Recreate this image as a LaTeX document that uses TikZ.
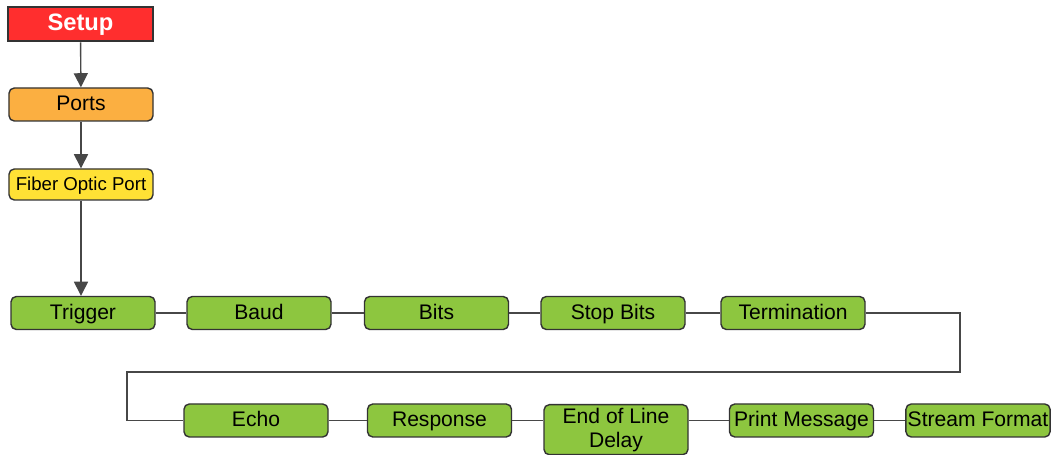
\documentclass[tikz,border=0pt]{standalone}
\usepackage{fontspec}
\setmainfont{Liberation Sans}
\usetikzlibrary{arrows.meta, positioning}

\definecolor{setupred}{HTML}{FF2E2E}
\definecolor{portorange}{HTML}{FBAF41}
\definecolor{fiberyellow}{HTML}{FFE135}
\definecolor{menugreen}{HTML}{8DC63F}
\definecolor{edgegray}{HTML}{333333}

\begin{document}
\begin{tikzpicture}[>={Triangle[width=8pt, length=8pt]},
  menu/.style={draw=edgegray, line width=0.8pt, rounded corners=3pt,
               minimum width=2.88cm, minimum height=0.66cm,
               inner sep=1pt, text height=1.6ex, text depth=0.3ex,
               font=\fontsize{12}{13.5}\selectfont},
  link/.style={draw=edgegray!90, line width=0.8pt}]
  \useasboundingbox (0, 0) rectangle (21.04, 9.1);

  % Top chain
  \node[draw=edgegray, line width=1.6pt, fill=setupred, text=white,
        minimum width=2.9cm, minimum height=0.68cm,
        text height=1.7ex, text depth=0.4ex,
        font=\fontsize{13.5}{15}\selectfont\bfseries] (setup) at (1.61, 8.62) {Setup};
  \node[menu, fill=portorange] (ports) at (1.62, 7.01) {Ports};
  \node[menu, fill=fiberyellow, minimum height=0.62cm,
        font=\fontsize{10.6}{12}\selectfont] (fiber) at (1.62, 5.41) {Fiber Optic Port};

  \draw[link, ->] (setup) -- (ports);
  \draw[link, ->] (ports) -- (fiber);

  % First row
  \node[menu, fill=menugreen] (trigger) at (1.66, 2.84) {Trigger};
  \node[menu, fill=menugreen] (baud) at (5.18, 2.84) {Baud};
  \node[menu, fill=menugreen] (bits) at (8.73, 2.84) {Bits};
  \node[menu, fill=menugreen] (stopbits) at (12.26, 2.84) {Stop Bits};
  \node[menu, fill=menugreen] (term) at (15.86, 2.84) {Termination};

  \draw[link, ->] (fiber.south) -- (fiber.south |- trigger.north);
  \draw[link] (trigger) -- (baud);
  \draw[link] (baud) -- (bits);
  \draw[link] (bits) -- (stopbits);
  \draw[link] (stopbits) -- (term);

  % Second row
  \node[menu, fill=menugreen] (echo) at (5.12, 0.69) {Echo};
  \node[menu, fill=menugreen] (response) at (8.79, 0.69) {Response};
  \node[menu, fill=menugreen, anchor=north, minimum height=1.0cm,
        align=center, text height=22pt] (eol) at (12.32, 1.02) {End of Line\\Delay};
  \node[menu, fill=menugreen] (printmsg) at (16.03, 0.69) {Print Message};
  \node[menu, fill=menugreen] (stream) at (19.56, 0.69) {Stream Format};

  \coordinate (turn) at (19.2, 1.66);
  \coordinate (back) at (2.54, 1.66);
  \draw[link] (term.east) -| (turn) -- (back) |- (echo.west);
  \draw[link] (echo) -- (response);
  \draw[link] (response) -- (response -| eol.west);
  \draw[link] (printmsg -| eol.east) -- (printmsg);
  \draw[link] (printmsg) -- (stream);
\end{tikzpicture}
\end{document}
